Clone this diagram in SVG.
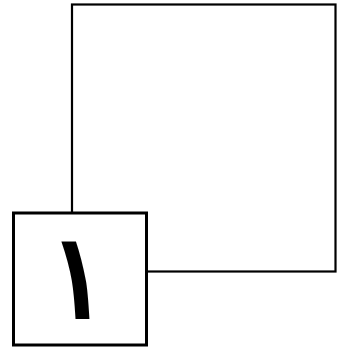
<svg xmlns="http://www.w3.org/2000/svg" width="342" height="352" viewBox="0 0 342 352">
<style>
.box{fill:#fff;stroke:#000}
.num{font-family:"DejaVu Sans","Noto Sans",sans-serif;font-weight:bold;fill:#000}
</style>
<rect width="342" height="352" fill="#fff"/>
<g id="large">
<rect class="box" x="72" y="4.5" width="263.5" height="267" stroke-width="2.2"/>
</g>
<g id="small">
<rect class="box" x="13.5" y="213" width="133" height="132" stroke-width="3"/>
<text class="num" x="73" y="319" font-size="122" text-anchor="middle" transform="matrix(0.66 0 0.06 1 12.1 0)">١</text>
</g>
</svg>
